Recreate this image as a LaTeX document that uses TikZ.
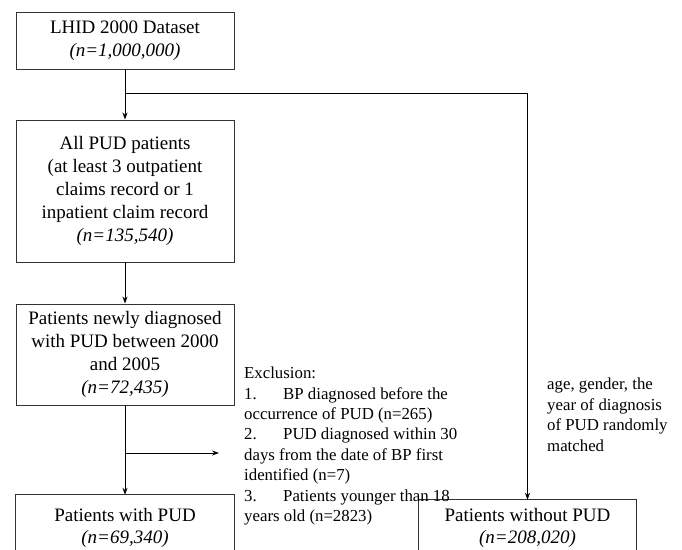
\documentclass[tikz,border=0pt]{standalone}
\usepackage{fontspec}
\setmainfont{Liberation Serif}
\usetikzlibrary{arrows.meta}
\begin{document}
\begin{tikzpicture}[x=1pt,y=-1pt,
  boxline/.style={draw=black!80, line width=0.9pt},
  box/.style={boxline, minimum width=218pt, inner sep=0pt, align=center, font=\fontsize{19}{23}\selectfont},
  openbox/.style={minimum width=218pt, inner sep=0pt, align=center, font=\fontsize{19}{22}\selectfont},
  conn/.style={line width=0.9pt, -{Stealth[length=7pt,width=5pt]}},
  note/.style={inner sep=0pt, align=left, font=\fontsize{16.8}{20.4}\selectfont, anchor=base west}]
\useasboundingbox (0,0) rectangle (682,549);
\clip (0,0) rectangle (682,549);
\node[box, minimum height=57pt] (b1) at (125,40.5) {LHID 2000 Dataset\\\textit{(n=1,000,000)}};
\node[box, minimum height=142pt] (b2) at (125,191) {All PUD patients\\(at least 3 outpatient\\claims record or 1\\inpatient claim record\\\textit{(n=135,540)}};
\node[box, minimum height=101pt] (b3) at (125,354.5) {Patients newly diagnosed\\with PUD between 2000\\and 2005\\\textit{(n=72,435)}};
\node[openbox, minimum height=66pt] (b4) at (125,528) {Patients with PUD\\\textit{(n=69,340)}};
\node[openbox, minimum height=56pt] (b5) at (527.5,528) {Patients without PUD\\\textit{(n=208,020)}};
\draw[boxline] (b4.south west) -- (b4.north west) -- (b4.north east) -- (b4.south east);
\draw[boxline] (b5.south west) -- (b5.north west) -- (b5.north east) -- (b5.south east);
\coordinate (j1) at (125,93);
\coordinate (j2) at (125,453);
\coordinate (ex) at (219,453);
\draw[conn] (b1.south) -- (b2.north);
\draw[conn] (j1) -| (b5.north);
\draw[conn] (b2.south) -- (b3.north);
\draw[conn] (b3.south) -- (b4.north);
\draw[conn] (j2) -- (ex);
\node[note] (excl) at (244,521.5) {Exclusion:\\
\makebox[39pt][l]{1.}BP diagnosed before the\\
occurrence of PUD (n=265)\\
\makebox[39pt][l]{2.}PUD diagnosed within 30\\
days from the date of BP first\\
identified (n=7)\\
\makebox[39pt][l]{3.}Patients younger than 18\\
years old (n=2823)};
\node[note] (match) at (547,451) {age, gender, the\\year of diagnosis\\of PUD randomly\\matched};
\end{tikzpicture}
\end{document}
